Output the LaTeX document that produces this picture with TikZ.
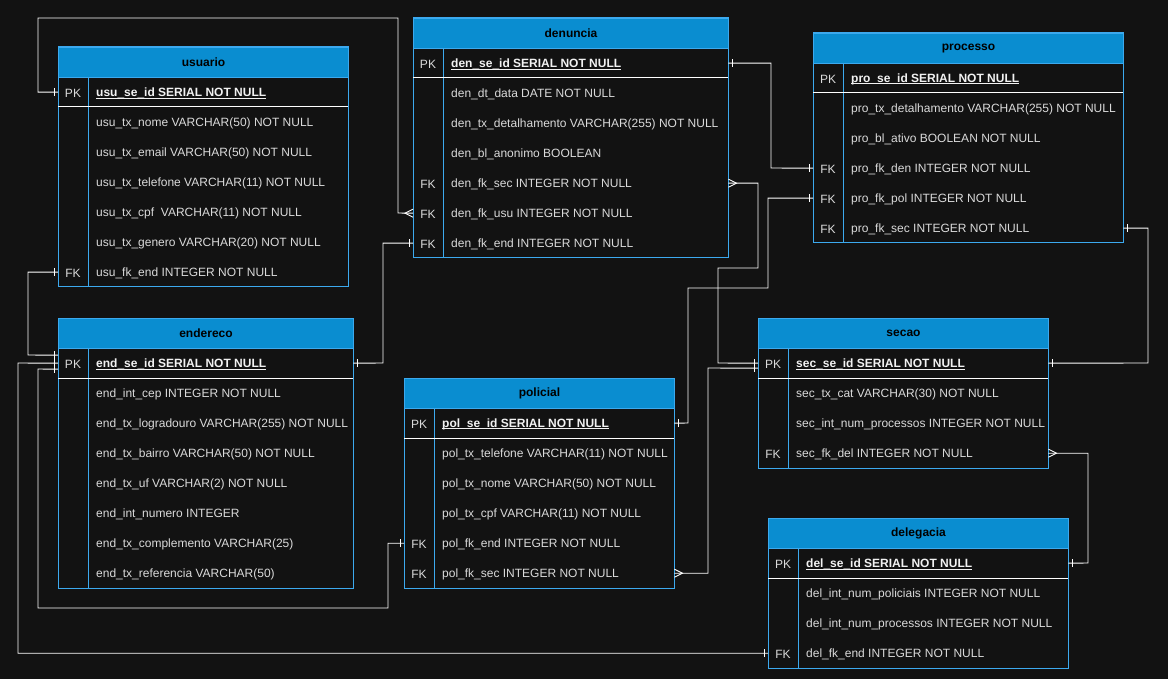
\documentclass[tikz,border=0pt]{standalone}
\usepackage{fontspec}
\setmainfont{Liberation Sans}
\usetikzlibrary{calc}

\definecolor{bgdark}{HTML}{121212}
\definecolor{hdrblue}{HTML}{0A8DD0}
\definecolor{frameblue}{HTML}{3CA9EE}
\definecolor{rowtext}{HTML}{DADADA}
\definecolor{pktext}{HTML}{F2F2F2}

% underline sitting at the level of the underscores
\newcommand\pkul[1]{\setbox0\hbox{#1}\rlap{\rule[-2pt]{\wd0}{0.8pt}}\box0}

\tikzset{
  hdr/.style={fill=hdrblue, draw=frameblue, line width=1pt, text=black,
    font=\fontsize{12}{14}\selectfont\bfseries, minimum height=30pt,
    inner sep=0pt, anchor=north west},
  frame/.style={draw=frameblue, line width=1pt},
  sepline/.style={draw=white, line width=1pt},
  rowbox/.style={minimum height=30pt, inner sep=0pt, anchor=north west},
  keytxt/.style={text=rowtext, font=\fontsize{12}{14}\selectfont, inner sep=0pt},
  fldtxt/.style={text=rowtext, font=\fontsize{12}{14}\selectfont, inner sep=0pt, anchor=west},
  pkfld/.style={fldtxt, text=pktext, font=\fontsize{12}{14}\selectfont\bfseries},
  conn/.style={draw=white, line width=0.9pt},
}

% table frame: name, x, y, width, number of rows, title
\newcommand\ertable[6]{%
  \node[hdr, minimum width=#4pt] (#1) at (#2,#3) {#6};
  \draw[frame] (#2,#3) rectangle ++(#4,{30+30*#5});
  \draw[frame] ({#2+30},{#3+30}) -- ++(0,{30*#5});
  \draw[sepline] (#2,{#3+60}) -- ++(#4,0);
}
% plain row: name, x, y, width, key, field
\newcommand\errow[6]{%
  \node[rowbox, minimum width=#4pt] (#1) at (#2,#3) {};
  \node[keytxt] (#1-k) at ([xshift=15pt,yshift=-0.8pt]#1.west) {#5};
  \node[fldtxt] (#1-t) at ([xshift=38pt,yshift=-0.8pt]#1.west) {#6};
}
% primary key row
\newcommand\erpk[5]{%
  \node[rowbox, minimum width=#4pt] (#1) at (#2,#3) {};
  \node[keytxt] (#1-k) at ([xshift=15pt,yshift=-0.8pt]#1.west) {PK};
  \node[pkfld] (#1-t) at ([xshift=38pt,yshift=-0.8pt]#1.west) {\pkul{#5}};
}
% cardinality marks
\newcommand\oneW[1]{\draw[conn] ($(#1)+(-4,-4)$) -- ++(0,8);}
\newcommand\oneE[1]{\draw[conn] ($(#1)+(4,-4)$) -- ++(0,8);}
\newcommand\manyW[1]{\draw[conn] ($(#1)+(0,-4)$) -- ($(#1)+(-8,0)$) -- ($(#1)+(0,4)$);}
\newcommand\manyE[1]{\draw[conn] ($(#1)+(0,-4)$) -- ($(#1)+(8,0)$) -- ($(#1)+(0,4)$);}

\begin{document}
\begin{tikzpicture}[x=1pt, y=-1pt]
\fill[bgdark] (0,0) rectangle (1168,679);
\useasboundingbox (0,0) rectangle (1168,679);

% ---------- usuario ----------
\ertable{usu}{58}{47}{290}{7}{usuario}
\erpk{usu-pk}{58}{77}{290}{usu\_se\_id SERIAL NOT NULL}
\errow{usu-nome}{58}{107}{290}{}{usu\_tx\_nome VARCHAR(50) NOT NULL}
\errow{usu-email}{58}{137}{290}{}{usu\_tx\_email VARCHAR(50) NOT NULL}
\errow{usu-tel}{58}{167}{290}{}{usu\_tx\_telefone VARCHAR(11) NOT NULL}
\errow{usu-cpf}{58}{197}{290}{}{usu\_tx\_cpf\ \ VARCHAR(11) NOT NULL}
\errow{usu-gen}{58}{227}{290}{}{usu\_tx\_genero VARCHAR(20) NOT NULL}
\errow{usu-fkend}{58}{257}{290}{FK}{usu\_fk\_end INTEGER NOT NULL}

% ---------- denuncia ----------
\ertable{den}{413}{18}{315}{7}{denuncia}
\erpk{den-pk}{413}{48}{315}{den\_se\_id SERIAL NOT NULL}
\errow{den-data}{413}{78}{315}{}{den\_dt\_data DATE NOT NULL}
\errow{den-det}{413}{108}{315}{}{den\_tx\_detalhamento VARCHAR(255) NOT NULL}
\errow{den-anon}{413}{138}{315}{}{den\_bl\_anonimo BOOLEAN}
\errow{den-fksec}{413}{168}{315}{FK}{den\_fk\_sec INTEGER NOT NULL}
\errow{den-fkusu}{413}{198}{315}{FK}{den\_fk\_usu INTEGER NOT NULL}
\errow{den-fkend}{413}{228}{315}{FK}{den\_fk\_end INTEGER NOT NULL}

% ---------- processo ----------
\ertable{pro}{813}{33}{310}{6}{processo}
\erpk{pro-pk}{813}{63}{310}{pro\_se\_id SERIAL NOT NULL}
\errow{pro-det}{813}{93}{310}{}{pro\_tx\_detalhamento VARCHAR(255) NOT NULL}
\errow{pro-ativo}{813}{123}{310}{}{pro\_bl\_ativo BOOLEAN NOT NULL}
\errow{pro-fkden}{813}{153}{310}{FK}{pro\_fk\_den INTEGER NOT NULL}
\errow{pro-fkpol}{813}{183}{310}{FK}{pro\_fk\_pol INTEGER NOT NULL}
\errow{pro-fksec}{813}{213}{310}{FK}{pro\_fk\_sec INTEGER NOT NULL}

% ---------- endereco ----------
\ertable{end}{58}{318}{295}{8}{endereco}
\erpk{end-pk}{58}{348}{295}{end\_se\_id SERIAL NOT NULL}
\errow{end-cep}{58}{378}{295}{}{end\_int\_cep INTEGER NOT NULL}
\errow{end-logr}{58}{408}{295}{}{end\_tx\_logradouro VARCHAR(255) NOT NULL}
\errow{end-bairro}{58}{438}{295}{}{end\_tx\_bairro VARCHAR(50) NOT NULL}
\errow{end-uf}{58}{468}{295}{}{end\_tx\_uf VARCHAR(2) NOT NULL}
\errow{end-num}{58}{498}{295}{}{end\_int\_numero INTEGER}
\errow{end-compl}{58}{528}{295}{}{end\_tx\_complemento VARCHAR(25)}
\errow{end-ref}{58}{558}{295}{}{end\_tx\_referencia VARCHAR(50)}

% ---------- policial ----------
\ertable{pol}{404}{378}{270}{6}{policial}
\erpk{pol-pk}{404}{408}{270}{pol\_se\_id SERIAL NOT NULL}
\errow{pol-tel}{404}{438}{270}{}{pol\_tx\_telefone VARCHAR(11) NOT NULL}
\errow{pol-nome}{404}{468}{270}{}{pol\_tx\_nome VARCHAR(50) NOT NULL}
\errow{pol-cpf}{404}{498}{270}{}{pol\_tx\_cpf VARCHAR(11) NOT NULL}
\errow{pol-fkend}{404}{528}{270}{FK}{pol\_fk\_end INTEGER NOT NULL}
\errow{pol-fksec}{404}{558}{270}{FK}{pol\_fk\_sec INTEGER NOT NULL}

% ---------- secao ----------
\ertable{sec}{758}{318}{290}{4}{secao}
\erpk{sec-pk}{758}{348}{290}{sec\_se\_id SERIAL NOT NULL}
\errow{sec-cat}{758}{378}{290}{}{sec\_tx\_cat VARCHAR(30) NOT NULL}
\errow{sec-nproc}{758}{408}{290}{}{sec\_int\_num\_processos INTEGER NOT NULL}
\errow{sec-fkdel}{758}{438}{290}{FK}{sec\_fk\_del INTEGER NOT NULL}

% ---------- delegacia ----------
\ertable{del}{768}{518}{300}{4}{delegacia}
\erpk{del-pk}{768}{548}{300}{del\_se\_id SERIAL NOT NULL}
\errow{del-npol}{768}{578}{300}{}{del\_int\_num\_policiais INTEGER NOT NULL}
\errow{del-nproc}{768}{608}{300}{}{del\_int\_num\_processos INTEGER NOT NULL}
\errow{del-fkend}{768}{638}{300}{FK}{del\_fk\_end INTEGER NOT NULL}

% ---------- relationships ----------
% denuncia.den_fk_usu -> usuario
\draw[conn] (usu-pk.west) -| (38,18) -| (398,213) -- (den-fkusu.west);
\oneW{usu-pk.west} \manyW{den-fkusu.west}
% denuncia.den_fk_end -> endereco
\draw[conn] (den-fkend.west) -| (383,363) -- (end-pk.east);
\oneW{den-fkend.west} \oneE{end-pk.east}
% usuario.usu_fk_end -> endereco
\draw[conn] (usu-fkend.west) -| (28,355) -- ([yshift=8pt]end-pk.west);
\oneW{usu-fkend.west} \oneW{[yshift=8pt]end-pk.west}
% policial.pol_fk_end -> endereco
\draw[conn] (pol-fkend.west) -| (388,608) -| (38,369) -- ([yshift=-6pt]end-pk.west);
\oneW{pol-fkend.west} \oneW{[yshift=-6pt]end-pk.west}
% delegacia.del_fk_end -> endereco
\draw[conn] (del-fkend.west) -| (18,363) -- (end-pk.west);
\oneW{del-fkend.west} \oneW{end-pk.west}
% processo.pro_fk_den -> denuncia
\draw[conn] (den-pk.east) -| (771,168) -- (pro-fkden.west);
\oneE{den-pk.east} \oneW{pro-fkden.west}
% denuncia.den_fk_sec -> secao
\draw[conn] (den-fksec.east) -| (758,268) -| (718,363) -- (sec-pk.west);
\manyE{den-fksec.east} \oneW{sec-pk.west}
% processo.pro_fk_pol -> policial
\draw[conn] (pro-fkpol.west) -| (768,288) -| (688,423) -- (pol-pk.east);
\oneW{pro-fkpol.west} \oneE{pol-pk.east}
% policial.pol_fk_sec -> secao
\draw[conn] (pol-fksec.east) -| (708,368) -- ([yshift=-5pt]sec-pk.west);
\manyE{pol-fksec.east} \oneW{[yshift=-5pt]sec-pk.west}
% processo.pro_fk_sec -> secao
\draw[conn] (pro-fksec.east) -| (1148,363) -- (sec-pk.east);
\oneE{pro-fksec.east} \oneE{sec-pk.east}
% secao.sec_fk_del -> delegacia
\draw[conn] (sec-fkdel.east) -| (1088,563) -- (del-pk.east);
\manyE{sec-fkdel.east} \oneE{del-pk.east}
\end{tikzpicture}
\end{document}
